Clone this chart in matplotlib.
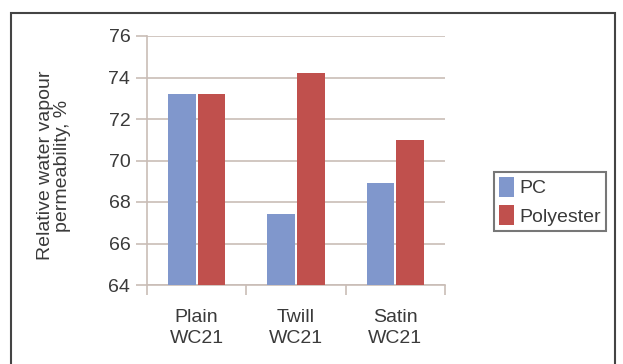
import matplotlib
matplotlib.use("Agg")
import matplotlib.pyplot as plt
from matplotlib.patches import Rectangle
import numpy as np

plt.rcParams['font.family'] = ['Liberation Sans', 'DejaVu Sans']

categories = ["Plain\nWC21", "Twill\nWC21", "Satin\nWC21"]
pc_values = [73.2, 67.4, 68.9]
polyester_values = [73.2, 74.2, 71.0]
series_names = ["PC", "Polyester"]
y_ticks = [64, 66, 68, 70, 72, 74, 76]

text_color = "#3a3a3a"
grid_color = "#c9bdb6"
pc_color = "#8097cc"
poly_color = "#c0504d"

fig = plt.figure(figsize=(6.23, 3.64), dpi=100)
ax = fig.add_axes([147 / 623, 1 - 285 / 364, 298 / 623, 249 / 364])

x = np.arange(len(categories))
w = 0.28
b1 = ax.bar(x - 0.15, np.array(pc_values) - 64, w, bottom=64, color=pc_color,
            label=series_names[0], zorder=3)
b2 = ax.bar(x + 0.15, np.array(polyester_values) - 64, w, bottom=64, color=poly_color,
            label=series_names[1], zorder=3)

ax.set_xlim(-0.5, 2.5)
ax.set_ylim(64, 76)
ax.set_yticks(y_ticks)
ax.set_yticklabels([str(t) for t in y_ticks], fontsize=14, color=text_color)
ax.yaxis.grid(True, color=grid_color, linewidth=1.2, zorder=0)

ax.set_xticks([0, 1, 2])
ax.set_xticklabels(categories, fontsize=14, color=text_color, linespacing=1.35)
ax.tick_params(axis='x', length=0, pad=17)
ax.set_xticks([-0.5, 0.5, 1.5, 2.5], minor=True)
ax.tick_params(axis='x', which='minor', length=7, color=grid_color, width=1.2)
ax.tick_params(axis='y', length=8, color=grid_color, width=1.2, pad=4)

for side in ["top", "right"]:
    ax.spines[side].set_visible(False)
for side in ["left", "bottom"]:
    ax.spines[side].set_color(grid_color)
    ax.spines[side].set_linewidth(1.2)

ax.set_ylabel("Relative water vapour\npermeability, %", fontsize=14,
              color=text_color, linespacing=1.0)
ax.yaxis.set_label_coords(-0.255, 0.48)

leg = fig.legend(handles=[b1, b2], labels=series_names,
                 loc="upper left", bbox_to_anchor=(494 / 623, 1 - 172 / 364),
                 fontsize=14, frameon=True, fancybox=False,
                 handlelength=0.8, handleheight=1.2, handletextpad=0.25,
                 labelspacing=0.4, borderpad=0.25, borderaxespad=0)
leg.get_frame().set_edgecolor("#555555")
leg.get_frame().set_linewidth(1.5)
for t in leg.get_texts():
    t.set_color(text_color)

border = Rectangle((11 / 623, -0.02), (615 - 11) / 623, 1 - 13 / 364 + 0.02,
                   transform=fig.transFigure, fill=False,
                   edgecolor="#444444", linewidth=1.5)
fig.patches.append(border)

fig.savefig("out.png", dpi=100)
